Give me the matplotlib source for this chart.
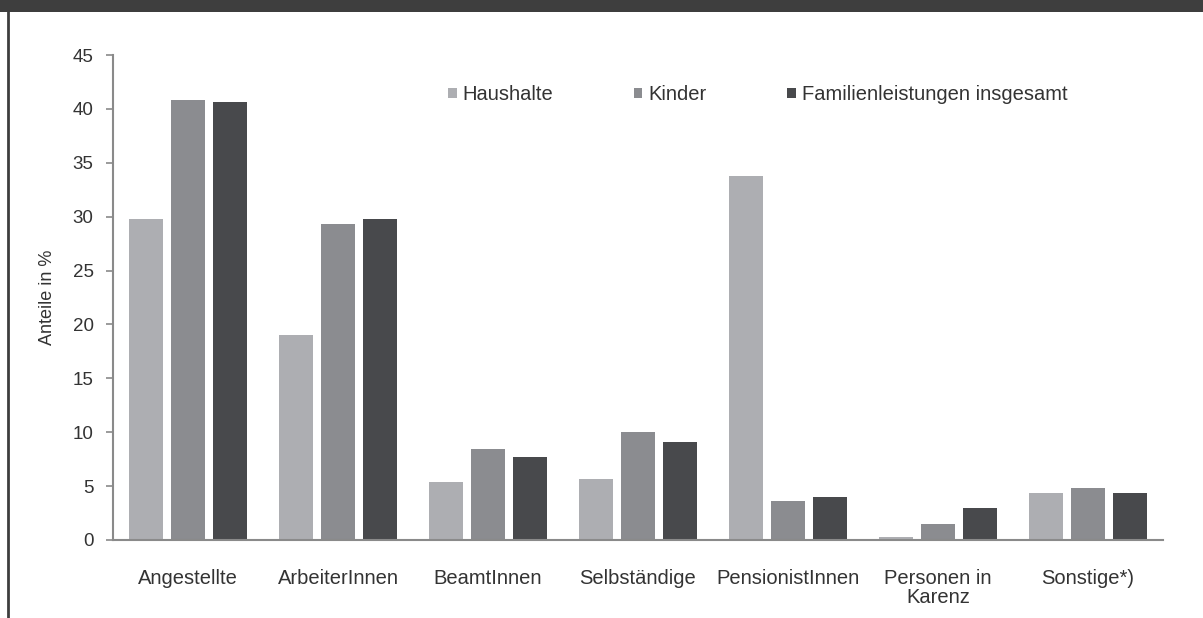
import matplotlib
matplotlib.use("Agg")
import matplotlib.pyplot as plt
import numpy as np
from matplotlib.patches import Patch, Rectangle
from matplotlib.lines import Line2D

plt.rcParams['font.family'] = ['Liberation Sans', 'DejaVu Sans']

categories = ["Angestellte", "ArbeiterInnen", "BeamtInnen", "Selbständige",
              "PensionistInnen", "Personen in\nKarenz", "Sonstige*)"]
series_names = ["Haushalte", "Kinder", "Familienleistungen insgesamt"]
haushalte = [29.8, 19.0, 5.4, 5.7, 33.8, 0.3, 4.4]
kinder = [40.8, 29.3, 8.4, 10.0, 3.6, 1.5, 4.8]
familien = [40.6, 29.8, 7.7, 9.1, 4.0, 3.0, 4.4]
yticks = [0, 5, 10, 15, 20, 25, 30, 35, 40, 45]
ylabel = "Anteile in %"

colors = ["#adaeb2", "#8b8c90", "#48494c"]
text_color = "#333333"

W, H = 1203, 618
fig = plt.figure(figsize=(W / 100, H / 100), dpi=100)
fig.patch.set_facecolor("white")

# header band and left border
fig.add_artist(Rectangle((0, 1 - 12 / H), 1, 12 / H, transform=fig.transFigure,
                         facecolor="#3e3e3e", edgecolor="none"))
fig.add_artist(Line2D([8 / W, 8 / W], [0, 1 - 12 / H], transform=fig.transFigure,
                      color="#3e3e3e", linewidth=2))

ax = fig.add_axes([113 / W, (H - 540) / H, 1050 / W, 485 / H])

x = np.arange(len(categories))
bw = 0.227
step = 0.28
for i, (vals, c) in enumerate(zip([haushalte, kinder, familien], colors)):
    ax.bar(x + (i - 1) * step, vals, width=bw, color=c, label=series_names[i],
           zorder=2)

ax.set_xlim(-0.5, len(categories) - 0.5)
ax.set_ylim(0, 45)
ax.set_yticks(yticks)
ax.set_yticklabels([str(v) for v in yticks])
ax.set_xticks(x)
ax.set_xticklabels(categories, fontsize=14.5, color=text_color, linespacing=1.0)
ax.tick_params(axis='x', length=0, pad=21)
ax.tick_params(axis='y', length=5, width=1.2, color="#8a8a8a", pad=9,
               labelsize=13.5, labelcolor=text_color)
for s in ["top", "right"]:
    ax.spines[s].set_visible(False)
for s in ["left", "bottom"]:
    ax.spines[s].set_color("#8a8a8a")
    ax.spines[s].set_linewidth(1.5)
ax.set_ylabel(ylabel, fontsize=13, color=text_color, labelpad=12)

handles = [Patch(facecolor=c, edgecolor="none") for c in colors]
leg = ax.legend(handles, series_names, loc="center left",
                bbox_to_anchor=(0.302, 0.918), ncol=3, frameon=False,
                fontsize=14.5, handlelength=0.42, handleheight=0.42,
                handletextpad=0.3, columnspacing=4.0, labelcolor=text_color)

fig.savefig("out.png", dpi=100)
